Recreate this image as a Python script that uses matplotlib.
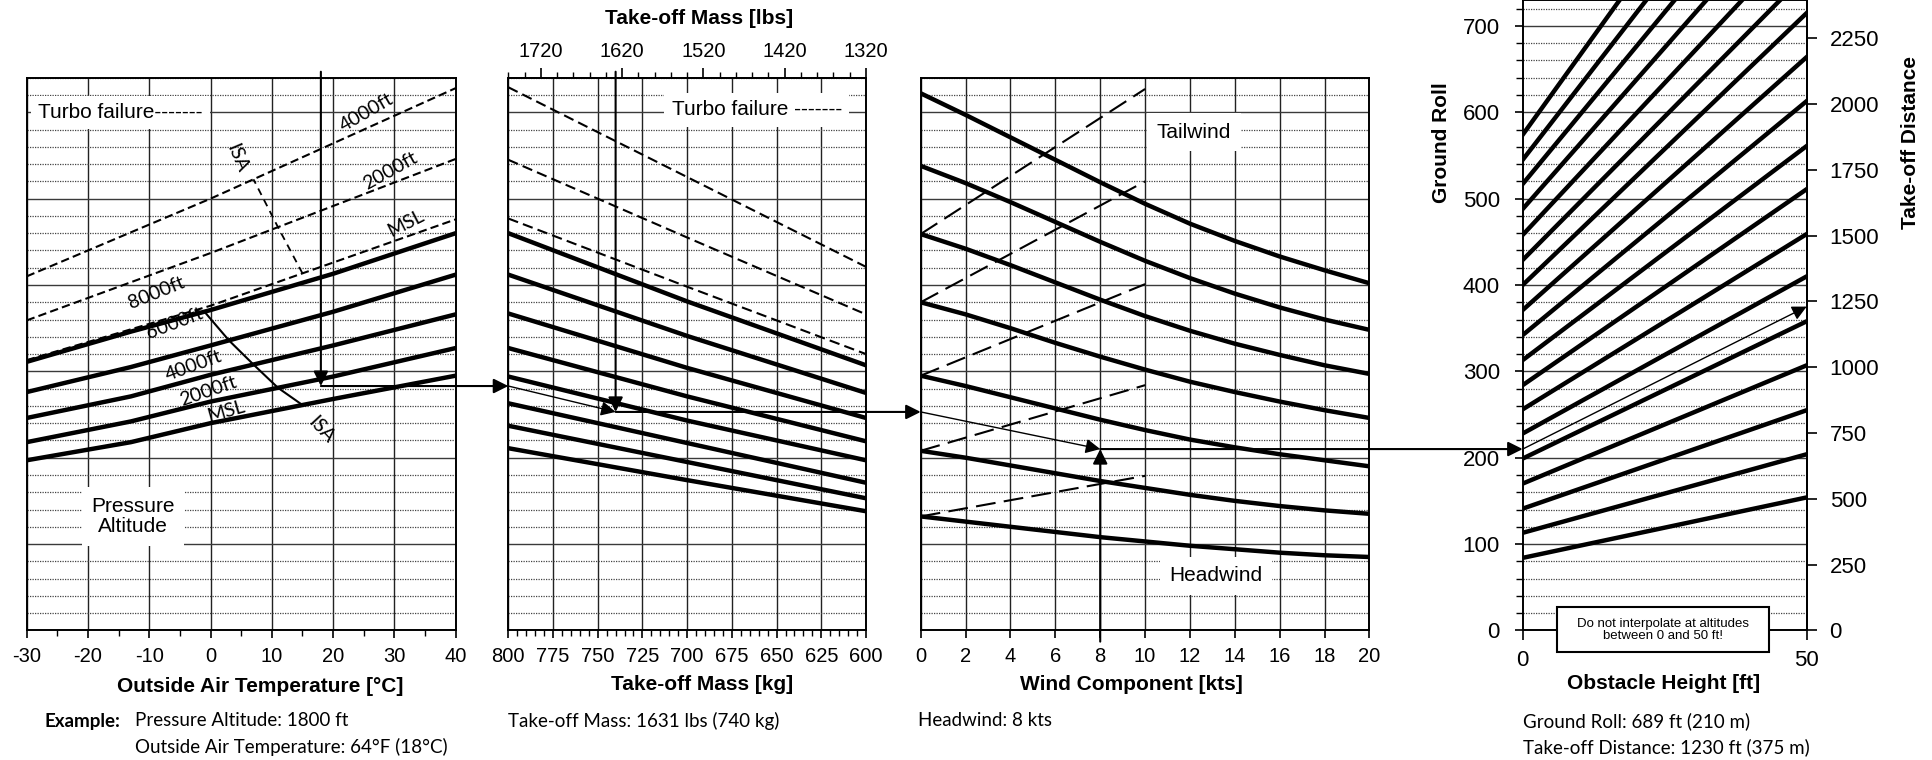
import numpy as np
import matplotlib.pyplot as plt
from matplotlib.patches import ConnectionPatch, Rectangle
from matplotlib.ticker import MultipleLocator

plt.rcParams['font.family'] = ['Liberation Sans', 'DejaVu Sans']
plt.rcParams['axes.unicode_minus'] = False

# OAT-Diagramm: Rollstrecke [m] je Druckhoehe ueber OAT [°C]
oat = [-30, -13, 0, 20, 40]
roll_msl = [197, 218, 240, 268, 295]
roll_2000 = [218, 242, 265, 294, 327]
roll_4000 = [246, 271, 296, 330, 366]
roll_6000 = [276, 305, 330, 369, 412]
roll_8000 = [311, 346, 371, 413, 460]
isa_oat = [15, 11, 7, 3, -1]          # ISA-Temperatur fuer MSL ... 8000 ft

# Turbo-Ausfall (gestrichelt)
turbo_oat = [-30, 0, 40]
turbo_msl = [313, 376, 476]
turbo_2000 = [359, 437, 546]
turbo_4000 = [410, 500, 628]

# Masse-Diagramm
mass_kg = [800, 700, 600]
mass_lines = [[460, 381, 307], [412, 341, 275], [367, 304, 246], [327, 271, 219],
              [294, 243, 197], [263, 217, 171], [237, 195, 153], [211, 174, 138]]
mass_turbo = [[629, 525, 421], [545, 455, 366], [477, 398, 320]]

# Wind-Diagramm
wind_kts = [0, 2, 4, 6, 8, 10, 12, 14, 16, 18, 20]
wind_lines = [
    [622, 597, 571, 545, 519, 494, 471, 451, 433, 417, 402],
    [538, 518, 496, 473, 450, 428, 408, 390, 374, 360, 348],
    [459, 442, 423, 403, 383, 364, 347, 332, 319, 307, 297],
    [380, 366, 350, 333, 317, 302, 288, 276, 265, 255, 246],
    [295, 283, 270, 257, 244, 232, 221, 212, 204, 197, 190],
    [208, 200, 191, 182, 173, 165, 157, 150, 144, 139, 135],
    [132, 126, 120, 114, 108, 103, 98, 94, 90, 87, 85],
]
tail_kts = [0, 10]
tail_lines = [[459, 627], [380, 520], [295, 401], [208, 284], [132, 179]]

# Hindernis-Diagramm: Rollstrecke [m] -> Startstrecke ueber 50 ft
obst_ft = [0, 50]
obst_lines = [[84, 154], [113, 204], [141, 255], [170, 307], [199, 358], [228, 410],
              [256, 459], [284, 511], [313, 561], [342, 613], [371, 664], [400, 715],
              [429, 761], [458, 810], [488, 862], [517, 915], [545, 970], [574, 1031]]

# Beispiel
ex_oat = 18
ex_mass = 740
ex_wind = 8
ex_roll = [283, 253, 210]   # nach OAT, nach Masse, nach Wind
ex_tod = 375

W, H = 1933, 760
Y0 = 630.4      # Pixelzeile fuer 0 m
PXM = 0.8635    # Pixel pro Meter

fig = plt.figure(figsize=(W / 100, H / 100), dpi=100)


def panel(x0, x1, top_m):
    return fig.add_axes([x0 / W, 1 - Y0 / H, (x1 - x0) / W, top_m * PXM / H])


def style(ax, xgrid=True):
    ax.set_axisbelow(True)
    ax.yaxis.set_major_locator(MultipleLocator(100))
    ax.yaxis.set_minor_locator(MultipleLocator(20))
    ax.grid(which='major', axis='y', color='#3a3a3a', lw=1.0)
    ax.grid(which='minor', axis='y', color='#444444', lw=0.9, ls=(0, (1, 1)))
    if xgrid:
        ax.grid(which='major', axis='x', color='#222222', lw=1.0)
    for s in ax.spines.values():
        s.set_linewidth(1.4)
    ax.tick_params(axis='x', which='major', direction='out', length=6, width=1.2,
                   labelsize=14.5, pad=6)
    ax.tick_params(axis='x', which='minor', direction='out', length=4, width=1.0)


def lab(axis, px, py):
    axis.set_label_coords(px / W, 1 - py / H, transform=fig.transFigure)


arrow = dict(arrowstyle='-|>', color='k', lw=1.5, mutation_scale=22, shrinkA=0, shrinkB=0)
thin = dict(arrowstyle='-|>', color='k', lw=1.0, mutation_scale=22, shrinkA=0, shrinkB=0)
box = dict(boxstyle='square,pad=0.35', fc='white', ec='none')
wbox = dict(boxstyle='square,pad=0.45', fc='white', ec='none')

ax1 = panel(26.7, 455.7, 640)
ax2 = panel(508.3, 866, 640)
ax3 = panel(920.7, 1369.5, 640)
ax4 = panel(1522.7, 1806.7, 730)

# ---------- Panel 1: OAT ----------
style(ax1)
ax1.set_xlim(-30, 40)
ax1.set_ylim(0, 640)
ax1.xaxis.set_major_locator(MultipleLocator(10))
ax1.xaxis.set_minor_locator(MultipleLocator(5))
ax1.tick_params(axis='y', which='both', left=False, labelleft=False)

alt_rolls = [roll_msl, roll_2000, roll_4000, roll_6000, roll_8000]
for r in alt_rolls:
    ax1.plot(oat, r, color='k', lw=3.2)
turbos = [turbo_msl, turbo_2000, turbo_4000]
for t in turbos:
    ax1.plot(turbo_oat, t, color='k', lw=1.5, ls=(0, (4, 2)))

isa_roll = [np.interp(t, oat, r) for t, r in zip(isa_oat, alt_rolls)]
ax1.plot(isa_oat, isa_roll, color='k', lw=1.5)
isa_turbo = [np.interp(t, turbo_oat, r) for t, r in zip(isa_oat[:3], turbos)]
ax1.plot(isa_oat[:3], isa_turbo, color='k', lw=1.3, ls=(0, (4, 3)))

lf = dict(family=['Lato', 'DejaVu Sans'], fontsize=14, ha='center', va='center',
          rotation_mode='anchor')
ax1.text(-8.8, 391, '8000ft', rotation=22, **lf)
ax1.text(-5.9, 356, '6000ft', rotation=21, **lf)
ax1.text(-2.8, 306, '4000ft', rotation=20, **lf)
ax1.text(-0.4, 277, '2000ft', rotation=19, **lf)
ax1.text(2.6, 254, 'MSL', rotation=16, **lf)
ax1.text(25.4, 600, '4000ft', rotation=30, **lf)
ax1.text(29.3, 532, '2000ft', rotation=29, **lf)
ax1.text(31.9, 471, 'MSL', rotation=27, **lf)
ax1.text(4.4, 547, 'ISA', rotation=-67, **lf)
ax1.text(18.1, 232, 'ISA', rotation=-47, **lf)

ax1.text(-28.1, 600, 'Turbo failure-------', fontsize=15, ha='left', va='center',
         bbox=box, zorder=3)
ax1.text(-12.6, 132, 'Pressure\nAltitude', fontsize=15, ha='center', va='center',
         linespacing=1.1, bbox=wbox, zorder=3)

ax1.set_xlabel('Outside Air Temperature [°C]', fontsize=15, fontweight='bold', va='center')
lab(ax1.xaxis, 260, 687)

ax1.annotate('', xy=(ex_oat, ex_roll[0]), xytext=(ex_oat, 647), arrowprops=arrow)

# ---------- Panel 2: Masse ----------
style(ax2)
ax2.set_xlim(800, 600)
ax2.set_ylim(0, 640)
ax2.xaxis.set_major_locator(MultipleLocator(25))
ax2.xaxis.set_minor_locator(MultipleLocator(5))
ax2.tick_params(axis='y', which='both', left=False, labelleft=False)
for r in mass_lines:
    ax2.plot(mass_kg, r, color='k', lw=3.2)
for r in mass_turbo:
    ax2.plot(mass_kg, r, color='k', lw=1.5, ls=(0, (5, 2.5)))
ax2.text(708.6, 603, 'Turbo failure -------', fontsize=15, ha='left', va='center',
         bbox=box, zorder=3)
ax2.set_xlabel('Take-off Mass [kg]', fontsize=15, fontweight='bold', va='center')
lab(ax2.xaxis, 702.5, 685)

top = ax2.secondary_xaxis('top', functions=(lambda k: k * 2.2, lambda l: l / 2.2))
top.set_xticks([1720, 1620, 1520, 1420, 1320])
top.xaxis.set_minor_locator(MultipleLocator(20))
top.tick_params(which='major', length=7, width=1.2, labelsize=14.5, pad=5)
top.tick_params(which='minor', length=4, width=1.0)
top.spines['top'].set_linewidth(1.4)
top.set_xlabel('Take-off Mass [lbs]', fontsize=15, fontweight='bold', va='center')
lab(top.xaxis, 699, 18.5)

ax2.annotate('', xy=(ex_mass, ex_roll[1]), xytext=(800, ex_roll[0]), arrowprops=thin)
ax2.annotate('', xy=(ex_mass, ex_roll[1]), xytext=(ex_mass, 647), arrowprops=arrow)

# ---------- Panel 3: Wind ----------
style(ax3)
ax3.set_xlim(0, 20)
ax3.set_ylim(0, 640)
ax3.xaxis.set_major_locator(MultipleLocator(2))
ax3.tick_params(axis='y', which='both', left=False, labelleft=False)
for r in wind_lines:
    ax3.plot(wind_kts, r, color='k', lw=3.2, solid_joinstyle='round')
for r in tail_lines:
    ax3.plot(tail_kts, r, color='k', lw=1.5, ls=(0, (9.5, 4)))
ax3.text(12.18, 577, 'Tailwind', fontsize=15, ha='center', va='center', bbox=wbox, zorder=3)
ax3.text(13.15, 63, 'Headwind', fontsize=15, ha='center', va='center', bbox=wbox, zorder=3)
ax3.set_xlabel('Wind Component [kts]', fontsize=15, fontweight='bold', va='center')
lab(ax3.xaxis, 1131, 684)

ax3.annotate('', xy=(ex_wind, ex_roll[2]), xytext=(0, ex_roll[1]), arrowprops=thin)
ax3.annotate('', xy=(ex_wind, ex_roll[2]), xytext=(ex_wind, -13), arrowprops=arrow)

# ---------- Panel 4: Hindernis ----------
style(ax4, xgrid=False)
ax4.set_xlim(0, 50)
ax4.set_ylim(0, 730)
ax4.set_xticks(obst_ft)
ax4.tick_params(axis='x', which='major', length=7, labelsize=16, pad=7)
ax4.tick_params(axis='y', which='major', direction='out', length=6, width=1.2,
                labelsize=16, pad=10.5)
ax4.tick_params(axis='y', which='minor', direction='out', length=5, width=1.0)
for r in obst_lines:
    ax4.plot(obst_ft, r, color='k', lw=3.2)
ax4.set_xlabel('Obstacle Height [ft]', fontsize=15, fontweight='bold', va='center')
lab(ax4.xaxis, 1664, 683.5)
ax4.set_ylabel('Ground Roll', fontsize=15, fontweight='bold', va='center')
lab(ax4.yaxis, 1442, 142.5)

right = ax4.secondary_yaxis('right', functions=(lambda m: m * 3.28084, lambda f: f / 3.28084))
right.set_yticks(np.arange(0, 2251, 250))
right.tick_params(length=7, width=1.2, labelsize=16, pad=9.5)
right.spines['right'].set_linewidth(1.4)
right.set_ylabel('Take-off Distance', fontsize=15, fontweight='bold', va='center')
lab(right.yaxis, 1911, 142.5)

ax4.annotate('', xy=(50, ex_tod), xytext=(0, ex_roll[2]), arrowprops=thin)

note = Rectangle((1556.7 / W, 1 - 651.7 / H), 212.3 / W, 44.4 / H, transform=fig.transFigure,
                 fc='white', ec='black', lw=1.5, zorder=5)
fig.add_artist(note)
fig.text(1662.7 / W, 1 - 630 / H, 'Do not interpolate at altitudes\nbetween 0 and 50 ft!',
         fontsize=9.5, ha='center', va='center', linespacing=1.05, zorder=6)

# Verbindungen zwischen den Diagrammen
for a, xa, b, xb, y in [(ax1, ex_oat, ax2, 800, ex_roll[0]),
                        (ax2, ex_mass, ax3, 0, ex_roll[1]),
                        (ax3, ex_wind, ax4, 0, ex_roll[2])]:
    con = ConnectionPatch(xyA=(xa, y), coordsA='data', axesA=a,
                          xyB=(xb, y), coordsB='data', axesB=b, **arrow)
    fig.add_artist(con)

# Beispieltexte
tf = dict(family=['Lato', 'DejaVu Sans'], fontsize=13.5, va='center', ha='left')
fig.text(45 / W, 1 - 721 / H, 'Example:', fontweight='bold', **tf)
fig.text(135 / W, 1 - 721 / H, 'Pressure Altitude: 1800 ft', **tf)
fig.text(135 / W, 1 - 747 / H, 'Outside Air Temperature: 64°F (18°C)', **tf)
fig.text(508 / W, 1 - 721 / H, 'Take-off Mass: 1631 lbs (740 kg)', **tf)
fig.text(918 / W, 1 - 721 / H, 'Headwind: 8 kts', **tf)
fig.text(1522.7 / W, 1 - 721 / H, 'Ground Roll: 689 ft (210 m)', **tf)
fig.text(1522.7 / W, 1 - 747 / H, 'Take-off Distance: 1230 ft (375 m)', **tf)

fig.savefig('out.png', dpi=100)
